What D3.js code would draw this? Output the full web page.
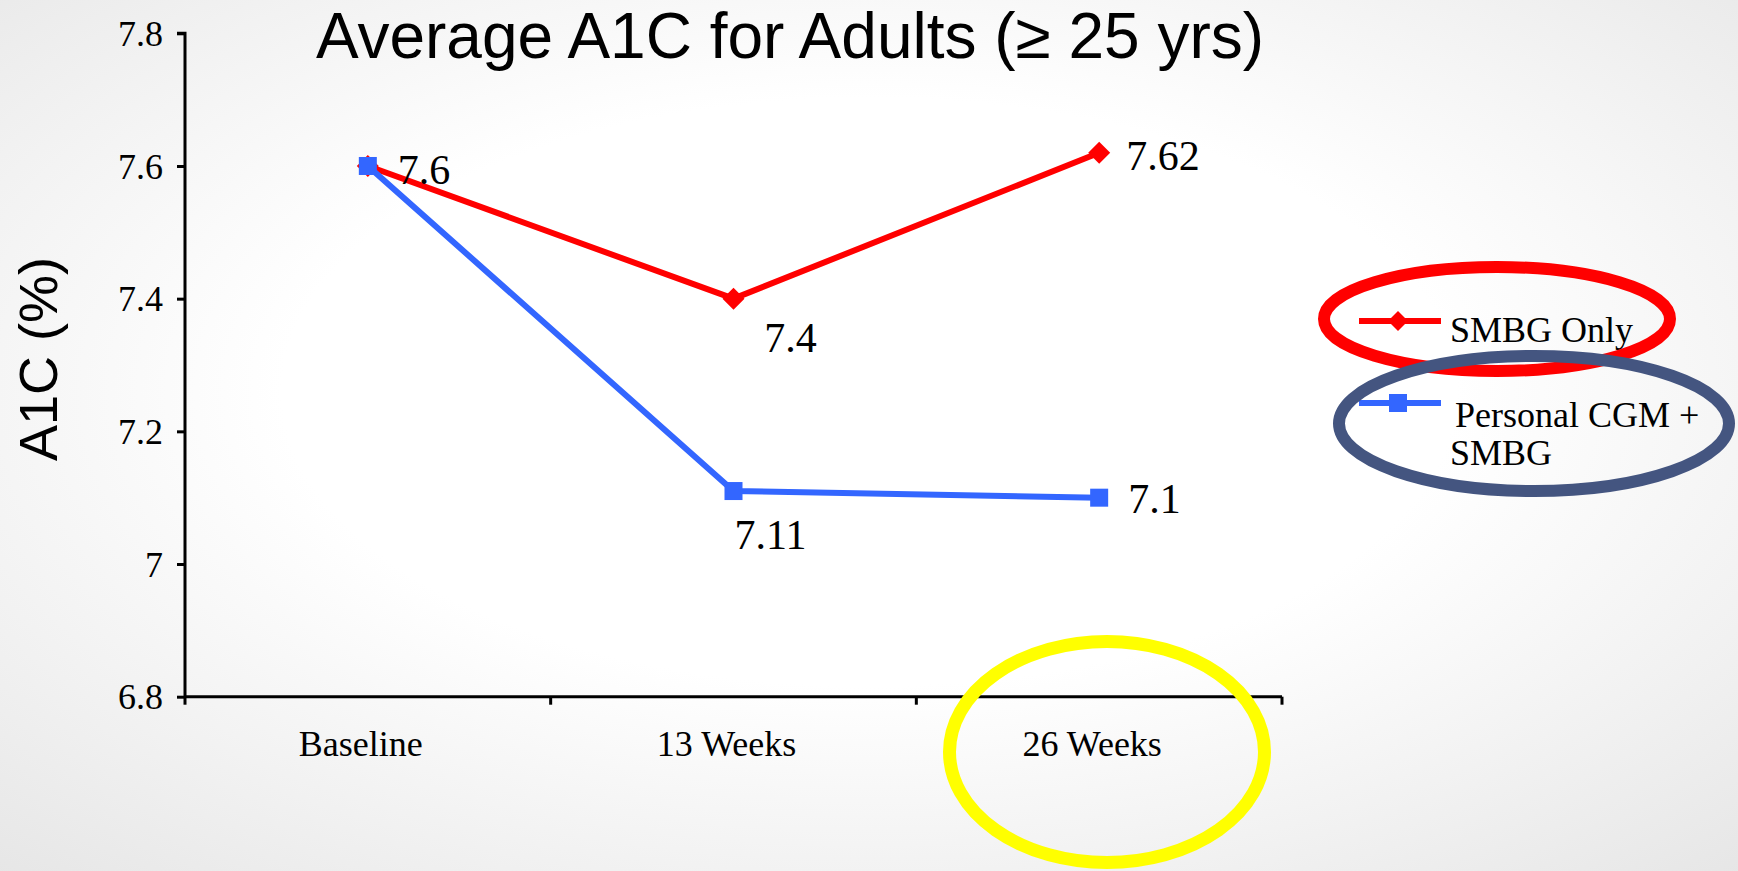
<!DOCTYPE html>
<html>
<head>
<meta charset="utf-8">
<script src="https://cdn.jsdelivr.net/npm/d3@7"></script>
<style>
  html, body { margin: 0; padding: 0; overflow: hidden; }
  svg { display: block; }
</style>
</head>
<body>
<svg id="chart" width="1738" height="871"></svg>
<script>
// ---- data ----
const categories = ["Baseline", "13 Weeks", "26 Weeks"];
const smbgOnly = [7.6, 7.4, 7.62];
const cgmPlusSmbg = [7.6, 7.11, 7.1];
const yTicks = [6.8, 7, 7.2, 7.4, 7.6, 7.8];
const seriesNames = ["SMBG Only", "Personal CGM +\nSMBG"];
const titleText = "Average A1C for Adults (\u2265 25 yrs)";
const yTitle = "A1C (%)";

// ---- layout ----
const W = 1738, H = 871;
const plot = { left: 185, right: 1282, top: 33.3, bottom: 696.7 };
const serif = "'Liberation Serif', 'DejaVu Serif', serif";
const sans = "'Liberation Sans', Arial, sans-serif";
const RED = "#ff0000", BLUE = "#3366ff";

const svg = d3.select("#chart");

// background: white centre fading to light grey at the edges
const defs = svg.append("defs");
const grad = defs.append("radialGradient").attr("id", "bg")
  .attr("cx", "50%").attr("cy", "45%").attr("r", "75%");
grad.append("stop").attr("offset", "0%").attr("stop-color", "#ffffff");
grad.append("stop").attr("offset", "45%").attr("stop-color", "#ffffff");
grad.append("stop").attr("offset", "100%").attr("stop-color", "#e6e6e6");
svg.append("rect").attr("width", W).attr("height", H).attr("fill", "url(#bg)");

// scales
const x = d3.scaleBand().domain(categories).range([plot.left, plot.right]).padding(0);
const xc = d => x(d) + x.bandwidth() / 2;
const y = d3.scaleLinear().domain([6.8, 7.8]).range([plot.bottom, plot.top]);

// y axis
const yAxis = d3.axisLeft(y).tickValues(yTicks).tickFormat(d3.format("")).tickSize(8).tickPadding(14);
const gy = svg.append("g").attr("transform", `translate(${plot.left},0)`).call(yAxis);
gy.select(".domain").attr("stroke", "#000").attr("stroke-width", 3)
  .attr("d", `M-8,${plot.top}H0V${plot.bottom}`);
gy.selectAll(".tick line").attr("stroke", "#000").attr("stroke-width", 3);
gy.selectAll(".tick text").attr("font-family", serif).attr("font-size", 36)
  .attr("fill", "#000").attr("dy", "0.34em");

// x axis: line with ticks on category boundaries, labels centred in each band
const edges = categories.map(c => x(c)).concat([plot.right]);
const gx = svg.append("g").attr("transform", `translate(0,${plot.bottom})`);
gx.append("line").attr("x1", plot.left).attr("x2", plot.right)
  .attr("stroke", "#000").attr("stroke-width", 3);
gx.selectAll("line.edge").data(edges).join("line").attr("class", "edge")
  .attr("x1", d => d).attr("x2", d => d).attr("y1", 0).attr("y2", 8)
  .attr("stroke", "#000").attr("stroke-width", 3);
gx.selectAll("text.cat").data(categories).join("text").attr("class", "cat")
  .attr("x", d => xc(d) - 7).attr("y", 59)
  .attr("text-anchor", "middle").attr("font-family", serif).attr("font-size", 36)
  .attr("fill", "#000").text(d => d);

// series lines
const line = d3.line().x((d, i) => xc(categories[i])).y(d => y(d));
svg.append("path").datum(smbgOnly).attr("d", line)
  .attr("fill", "none").attr("stroke", RED).attr("stroke-width", 6).attr("stroke-linejoin", "round");
svg.append("path").datum(cgmPlusSmbg).attr("d", line)
  .attr("fill", "none").attr("stroke", BLUE).attr("stroke-width", 6).attr("stroke-linejoin", "miter");

// markers: diamonds for SMBG only, squares for CGM + SMBG
svg.selectAll("path.dia").data(smbgOnly).join("path").attr("class", "dia")
  .attr("d", "M0,-11L11,0L0,11L-11,0Z")
  .attr("transform", (d, i) => `translate(${xc(categories[i])},${y(d)})`)
  .attr("fill", RED);
svg.selectAll("rect.sq").data(cgmPlusSmbg).join("rect").attr("class", "sq")
  .attr("x", (d, i) => xc(categories[i]) - 9).attr("y", d => y(d) - 9)
  .attr("width", 18).attr("height", 18).attr("fill", BLUE);

// data labels (offset from each point, text anchor)
const smbgLabelPos = [[30, 18, "start"], [57, 53, "middle"], [27, 17, "start"]];
const cgmLabelPos = [null, [37, 58, "middle"], [29, 15, "start"]];
function drawLabels(values, pos) {
  values.forEach((v, i) => {
    const p = pos[i];
    if (!p) return;
    svg.append("text")
      .attr("x", xc(categories[i]) + p[0]).attr("y", y(v) + p[1])
      .attr("text-anchor", p[2]).attr("font-family", serif).attr("font-size", 42)
      .attr("fill", "#000").text(v);
  });
}
drawLabels(smbgOnly, smbgLabelPos);
drawLabels(cgmPlusSmbg, cgmLabelPos);

// title
svg.append("text").attr("x", 790).attr("y", 58).attr("text-anchor", "middle")
  .attr("font-family", sans).attr("font-size", 64).attr("fill", "#000").text(titleText);

// y axis title
svg.append("text").attr("transform", "translate(57,359) rotate(-90)")
  .attr("text-anchor", "middle").attr("font-family", sans).attr("font-size", 54)
  .attr("fill", "#000").text(yTitle);

// legend
const lg = svg.append("g");
lg.append("line").attr("x1", 1359).attr("x2", 1441).attr("y1", 321).attr("y2", 321)
  .attr("stroke", RED).attr("stroke-width", 6);
lg.append("path").attr("d", "M0,-10L10,0L0,10L-10,0Z").attr("transform", "translate(1398,321)").attr("fill", RED);
lg.append("text").attr("x", 1450).attr("y", 342).attr("font-family", serif).attr("font-size", 36)
  .attr("fill", "#000").text(seriesNames[0]);
lg.append("line").attr("x1", 1359).attr("x2", 1441).attr("y1", 403).attr("y2", 403)
  .attr("stroke", BLUE).attr("stroke-width", 6);
lg.append("rect").attr("x", 1389).attr("y", 394).attr("width", 18).attr("height", 18).attr("fill", BLUE);
const l2 = seriesNames[1].split("\n");
lg.append("text").attr("x", 1455).attr("y", 427).attr("font-family", serif).attr("font-size", 36)
  .attr("fill", "#000").text(l2[0]);
lg.append("text").attr("x", 1450).attr("y", 465).attr("font-family", serif).attr("font-size", 36)
  .attr("fill", "#000").text(l2[1]);

// highlight ellipses
svg.append("ellipse").attr("cx", 1497).attr("cy", 319).attr("rx", 173).attr("ry", 52)
  .attr("fill", "none").attr("stroke", RED).attr("stroke-width", 12);
svg.append("ellipse").attr("cx", 1534).attr("cy", 423.5).attr("rx", 195).attr("ry", 67.5)
  .attr("fill", "none").attr("stroke", "#445580").attr("stroke-width", 12);
svg.append("ellipse").attr("cx", 1107).attr("cy", 752).attr("rx", 157.5).attr("ry", 110.5)
  .attr("fill", "none").attr("stroke", "#ffff00").attr("stroke-width", 13);
</script>
</body>
</html>
